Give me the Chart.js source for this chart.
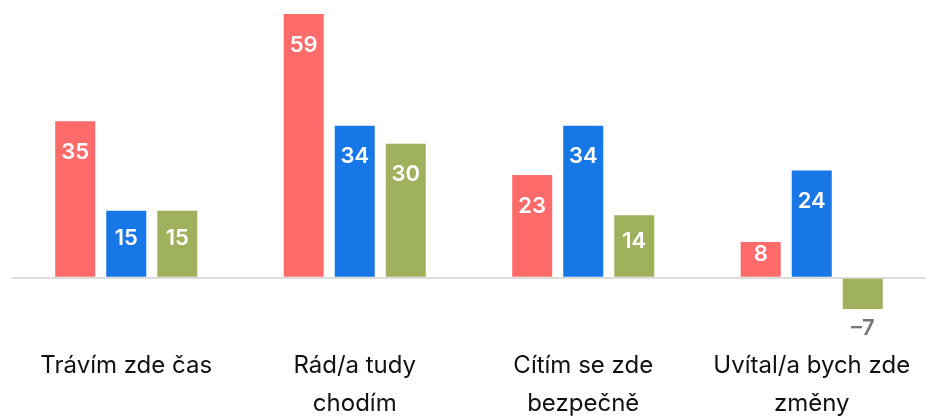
<!DOCTYPE html>
<html>
<head>
<meta charset="utf-8">
<script src="https://cdn.jsdelivr.net/npm/chart.js@4"></script>
<style>
  html, body { margin: 0; padding: 0; background: #ffffff; }
  #wrap { width: 926px; height: 418px; position: relative; }
</style>
</head>
<body>
<div id="wrap"><canvas id="chart" width="926" height="418"></canvas></div>
<script>
const categories = [
  ["Trávím zde čas"],
  ["Rád/a tudy", "chodím"],
  ["Cítím se zde", "bezpečně"],
  ["Uvítal/a bych zde", "změny"],
];
const seriesA = [35, 59, 23, 8];
const seriesB = [15, 34, 34, 24];
const seriesC = [15, 30, 14, -7];
const seriesColors = ["#ff6b6b", "#1877e6", "#a0b15e"];

const FONT = "Inter, 'Noto Sans', sans-serif";

// draws the numbers inside (or under) each bar
const valueLabels = {
  id: "valueLabels",
  afterDatasetsDraw(chart) {
    const ctx = chart.ctx;
    ctx.save();
    ctx.font = `600 22px ${FONT}`;
    ctx.textAlign = "center";
    ctx.textBaseline = "middle";
    chart.data.datasets.forEach((ds, di) => {
      const meta = chart.getDatasetMeta(di);
      meta.data.forEach((bar, i) => {
        const v = ds.data[i];
        const h = Math.abs(bar.base - bar.y);
        if (v >= 0) {
          const off = Math.min(31, h / 2 - 5);
          ctx.fillStyle = "#ffffff";
          ctx.fillText(String(v), bar.x, bar.y + off);
        } else {
          ctx.fillStyle = "#777777";
          ctx.fillText(String(v).replace("-", "–"), bar.x, bar.y + 19);
        }
      });
    });
    ctx.restore();
  },
};

new Chart(document.getElementById("chart"), {
  type: "bar",
  data: {
    labels: categories,
    datasets: [seriesA, seriesB, seriesC].map((data, i) => ({
      data,
      backgroundColor: seriesColors[i],
      borderWidth: 0,
      categoryPercentage: 0.67,
      barPercentage: 0.784,
    })),
  },
  options: {
    responsive: false,
    animation: false,
    layout: { padding: { top: 9.5, left: 12, right: 0, bottom: 0 } },
    plugins: { legend: { display: false }, tooltip: { enabled: false } },
    scales: {
      x: {
        grid: { display: false, drawTicks: false },
        border: { display: false },
        ticks: {
          color: "#111111",
          padding: 24,
          maxRotation: 0,
          autoSkip: false,
          font: { family: FONT, size: 24, lineHeight: "38px" },
        },
        afterFit(scale) {
          scale.height = 95.5;
          scale.paddingLeft = 0;
          scale.paddingRight = 0;
        },
      },
      y: {
        min: -10,
        max: 60,
        ticks: { display: false, stepSize: 10 },
        border: { display: false },
        grid: {
          drawTicks: false,
          lineWidth: 2,
          color: (c) => (c.tick && c.tick.value === 0 ? "#dddddd" : "rgba(0,0,0,0)"),
        },
        afterFit(scale) { scale.width = 0; },
      },
    },
  },
  plugins: [valueLabels],
});
</script>
</body>
</html>
